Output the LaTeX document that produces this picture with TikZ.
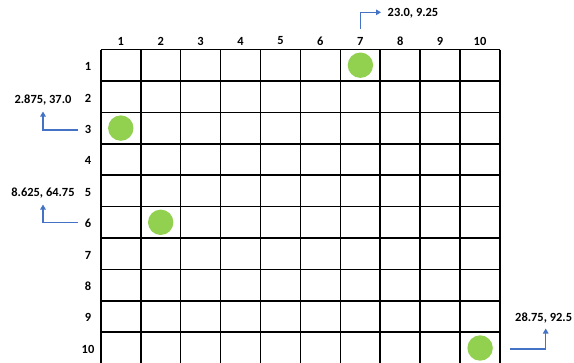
\documentclass[tikz,border=0pt]{standalone}
\usepackage{fontspec}
\setmainfont{Carlito}
\usetikzlibrary{arrows.meta}
\definecolor{dotgreen}{HTML}{92D050}
\definecolor{arrblue}{HTML}{4472C4}
\begin{document}
\begin{tikzpicture}[x=1bp,y=-1bp,
  lbl/.style={font=\fontsize{12.5}{14}\selectfont\bfseries,inner sep=0pt},
  dot/.style={circle,fill=dotgreen,draw=none,minimum size=25.4bp,inner sep=0pt},
  gridline/.style={line width=1.6bp,black},
  arr/.style={arrblue,line width=1.3bp,-{Triangle[length=5bp,width=5.5bp]}}]
\useasboundingbox (0,0) rectangle (574,362);
\begin{scope}
\clip (0,0) rectangle (574,362);
\foreach \i in {0,...,10} {
  \draw[gridline] ({100.8+39.92*\i},49.5) -- ({100.8+39.92*\i},370);
}
\foreach \j in {0,...,10} {
  \draw[gridline] (100.8,{49.5+31.42*\j}) -- (500,{49.5+31.42*\j});
}
\end{scope}
% column labels
\foreach \i in {1,...,10} {
  \node[lbl] (c\i) at ({100.8+39.92*(\i-0.5)},41) {\i};
}
% row labels
\foreach \j in {1,...,10} {
  \node[lbl] (r\j) at (88,{49.5+31.42*(\j-0.5)+1.3}) {\j};
}
% dots
\node[dot] (d1) at (360.4,65.2) {};
\node[dot] (d3) at (120.8,128.1) {};
\node[dot] (d6) at (160.7,222.3) {};
\node[dot] (d10) at (480.1,348) {};
% coordinate labels
\node[lbl] (t1) at (413,13.5) {23.0, 9.25};
\node[lbl] (t3) at (43,100.5) {2.875, 37.0};
\node[lbl] (t6) at (43,193) {8.625, 64.75};
\node[lbl,anchor=west] (t10) at (515,318) {28.75, 92.5};
% arrows
\coordinate (s1) at (360.3,29);
\coordinate (e1) at (381,12.3);
\draw[arr] (s1) |- (e1);
\coordinate (s3) at (78,130);
\coordinate (e3) at (43,111.5);
\draw[arr] (s3) -| (e3);
\coordinate (s6) at (78,222.7);
\coordinate (e6) at (43,204.5);
\draw[arr] (s6) -| (e6);
\coordinate (s10) at (510,349);
\coordinate (e10) at (545.7,328.5);
\draw[arr] (s10) -| (e10);
\end{tikzpicture}
\end{document}
